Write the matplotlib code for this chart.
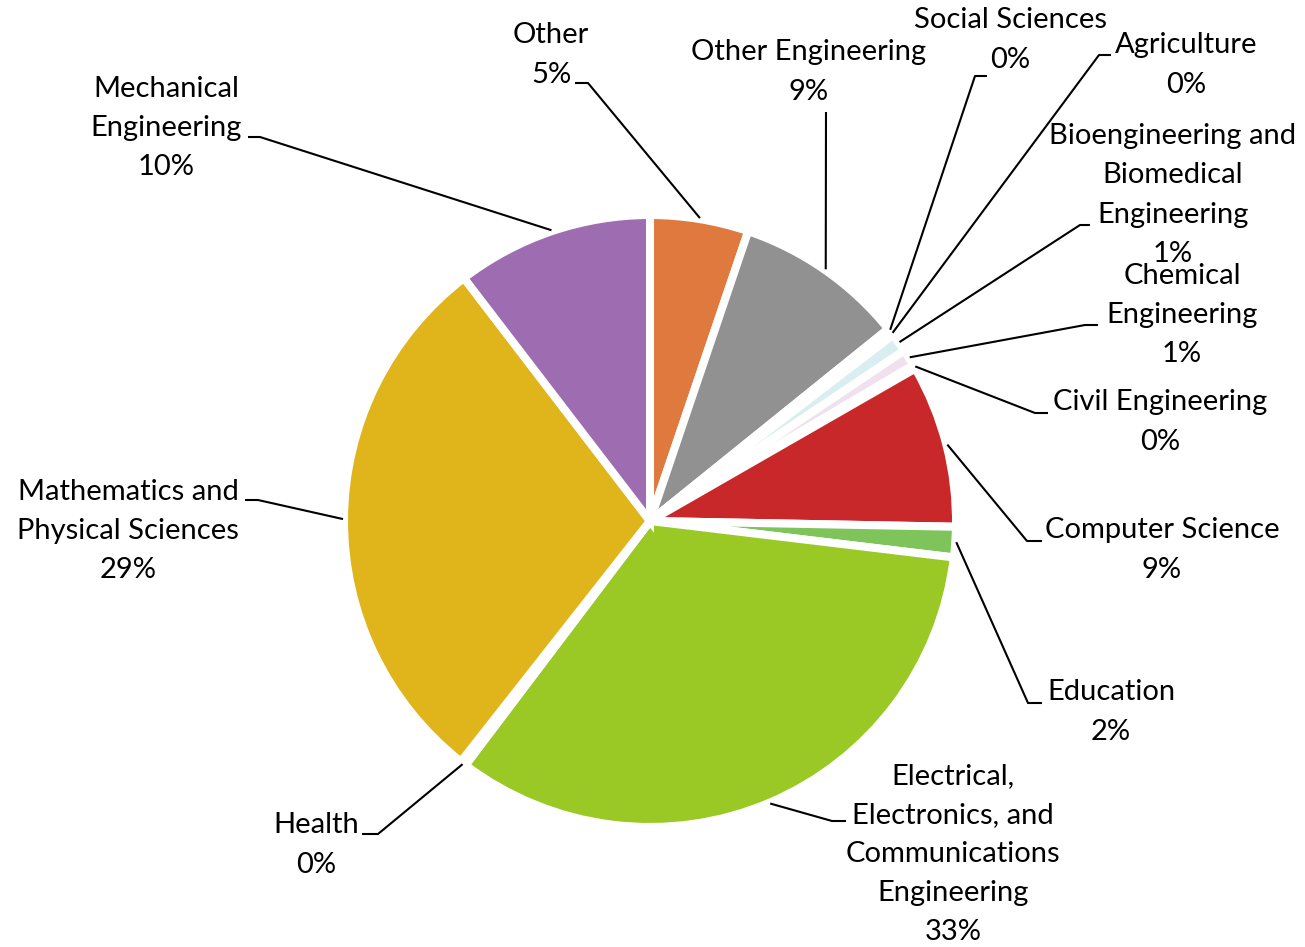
import matplotlib.pyplot as plt
import numpy as np

# datos del gráfico (porcentajes)
categorias = ['Other', 'Other Engineering', 'Social Sciences', 'Agriculture',
              'Bioengineering and Biomedical Engineering', 'Chemical Engineering',
              'Civil Engineering', 'Computer Science', 'Education',
              'Electrical, Electronics, and Communications Engineering',
              'Health', 'Mathematics and Physical Sciences', 'Mechanical Engineering']
etiquetas = ['Other', 'Other Engineering', 'Social Sciences', 'Agriculture',
             'Bioengineering and\nBiomedical\nEngineering', 'Chemical\nEngineering',
             'Civil Engineering', 'Computer Science', 'Education',
             'Electrical,\nElectronics, and\nCommunications\nEngineering',
             'Health', 'Mathematics and\nPhysical Sciences', 'Mechanical\nEngineering']
valores = [5.2, 9.0, 0.2, 0.2, 1.0, 0.9, 0.2, 8.6, 1.6, 33.4, 0.3, 29.0, 10.4]
colores = ['#E0793E', '#919191', '#4BACC6', '#A5A5A5', '#D9EEF1', '#F1E1EE',
           '#CCCCCC', '#C9282A', '#7EC45A', '#9AC824', '#5B9BD5', '#E0B51B', '#9E6CB1']

# posiciones de las etiquetas (pixeles, y hacia abajo): centro del texto, codo y punta de la linea guia
pos_texto = [(551, 55), (809, 72), (1010, 40), (1186, 65), (1173, 195), (1182, 315),
             (1160, 422), (1162, 550), (1111, 712), (953, 854), (316, 845), (128, 531), (166, 128)]
codos = [(588, 83), (826, 112), (975, 76), (1099, 55), (1080, 225), (1085, 325),
         (1035, 413), (1027, 541), (1028, 703), (832, 821), (378, 834), (258, 500), (260, 137)]
puntas = [(575, 83), (826, 112), (987, 76), (1111, 55), (1090, 225), (1098, 325),
          (1048, 413), (1042, 541), (1042, 703), (846, 821), (362, 834), (245, 500), (248, 137)]

W, H = 1305, 947
cx, cy, r = 650, 947 - 521, 306

plt.rcParams['font.family'] = ['Lato', 'DejaVu Sans']
fig = plt.figure(figsize=(W / 100, H / 100), dpi=100, facecolor='white')
ax = fig.add_axes([0, 0, 1, 1])

wedges, _ = ax.pie(valores, colors=colores, startangle=90, counterclock=False,
                   center=(cx, cy), radius=r,
                   wedgeprops=dict(edgecolor='white', linewidth=5.8))
ax.set_xlim(0, W)
ax.set_ylim(0, H)
ax.set_aspect('equal')
ax.axis('off')

total = sum(valores)
for w, et, v, pt, cd, pn in zip(wedges, etiquetas, valores, pos_texto, codos, puntas):
    ang = np.deg2rad((w.theta1 + w.theta2) / 2)
    ax0 = cx + (r + 1) * np.cos(ang)
    ay0 = cy + (r + 1) * np.sin(ang)
    ax.plot([ax0, cd[0], pn[0]], [ay0, H - cd[1], H - pn[1]], color='black', lw=1.5,
            solid_capstyle='butt')
    ax.text(pt[0], H - pt[1], f"{et}\n{round(v / total * 100)}%", ha='center', va='center',
            fontsize=21, color='black', linespacing=1.62)

fig.savefig('out.png', dpi=100, facecolor='white')
